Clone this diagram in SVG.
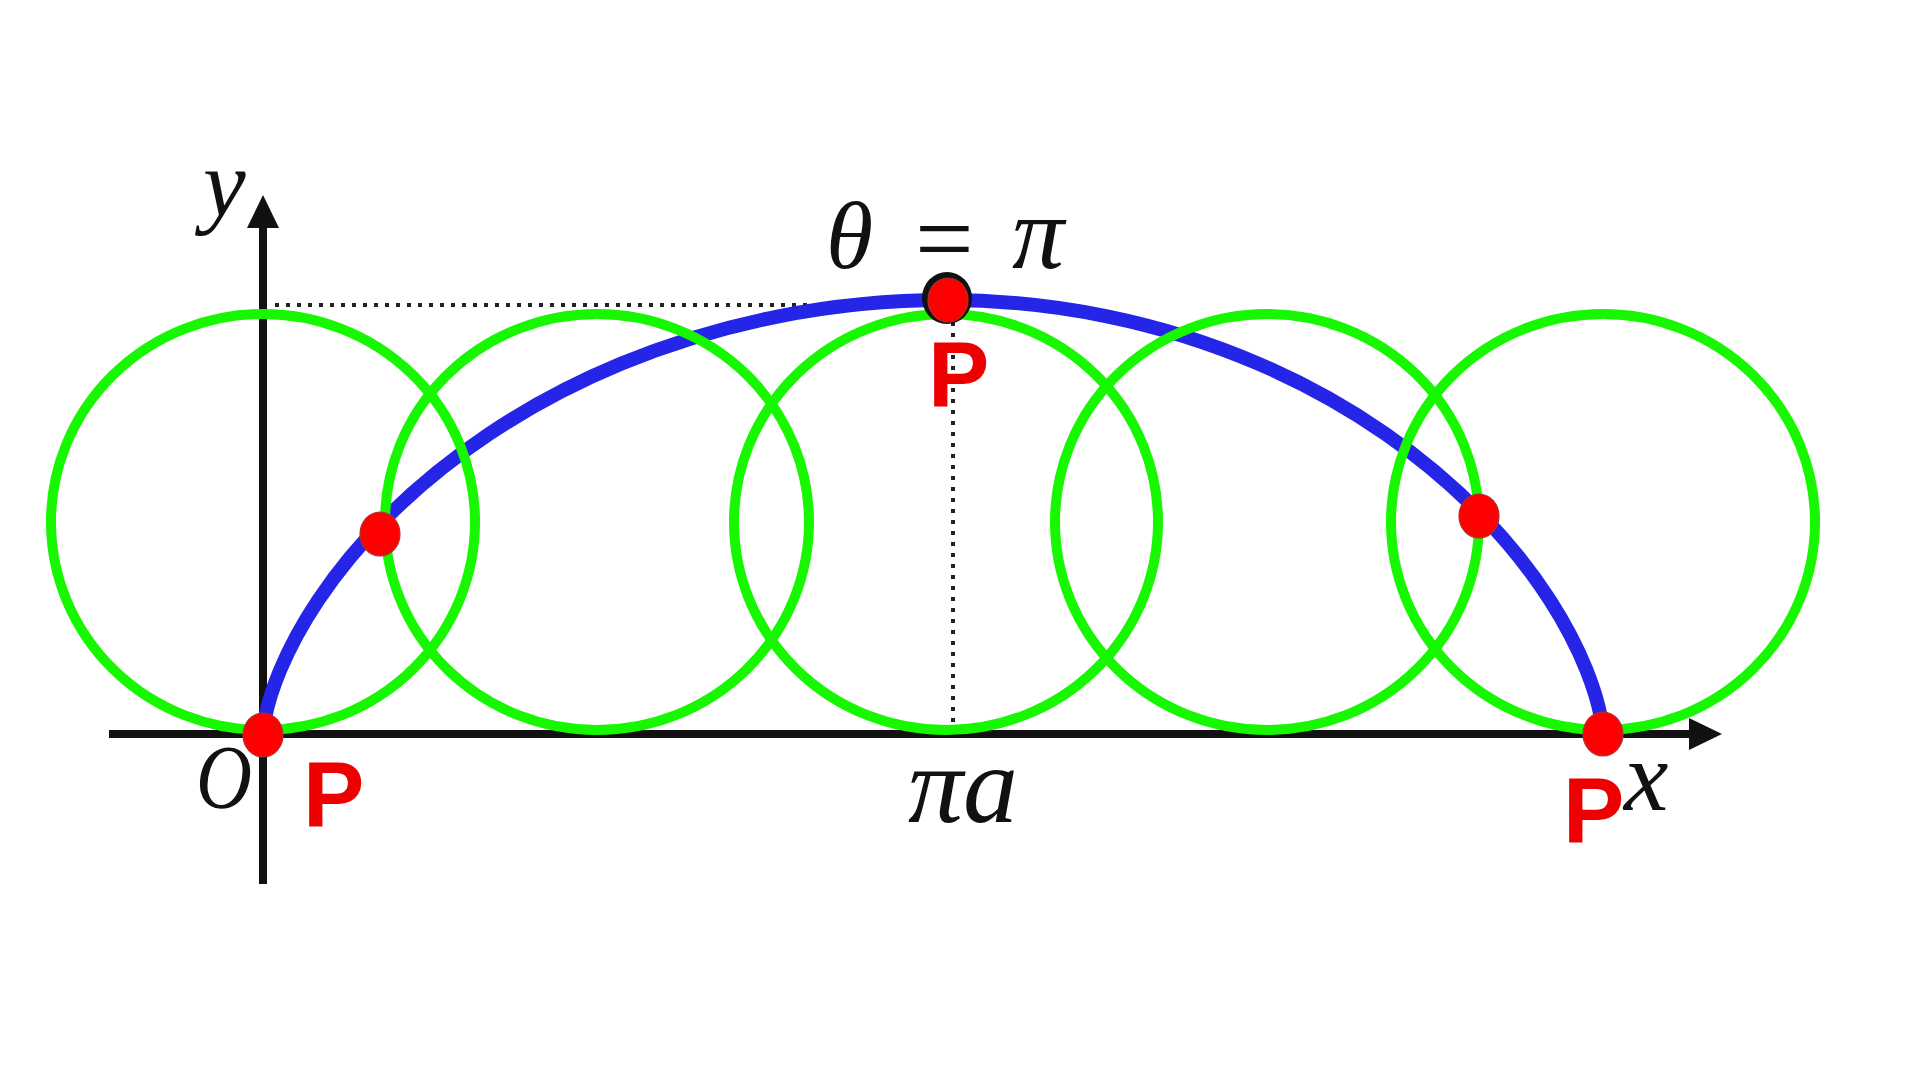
<svg xmlns="http://www.w3.org/2000/svg" width="1920" height="1080" viewBox="0 0 1920 1080">
  <style>
    .axis { stroke: #111; stroke-width: 8; fill: none; }
    .dots { stroke: #222; stroke-width: 4; stroke-dasharray: 4 7; fill: none; }
    .circ { stroke: #17f700; stroke-width: 10; fill: none; }
    .curve { stroke: #2525e8; stroke-width: 14; fill: none; stroke-linecap: round; stroke-linejoin: round; }
    .pt { fill: #ff0000; stroke: #b03030; stroke-width: 1.2; }
    .math { font-family: "Liberation Serif", "Times New Roman", serif; font-style: italic; fill: #111; }
    .lbl { font-family: "Liberation Sans", Arial, sans-serif; font-weight: bold; font-size: 92px; fill: #ee0000; }
  </style>
  <rect width="1920" height="1080" fill="#ffffff"/>

  <g id="guides">
    <line class="dots" x1="275" y1="305" x2="820" y2="305"/>
    <line class="dots" x1="953" y1="322" x2="953" y2="730"/>
  </g>

  <g id="axes">
    <line class="axis" x1="263" y1="884" x2="263" y2="222"/>
    <polygon points="263,195 247,228 279,228" fill="#111"/>
    <line class="axis" x1="109" y1="734" x2="1695" y2="734"/>
    <polygon points="1722,734 1689,718 1689,750" fill="#111"/>
  </g>

  <g id="cycloid">
    <path class="curve" d="M263,734 C263,734 263.01,728.35 265.18,717.48 C267.35,706.61 271.69,690.53 280.02,670.44 C288.36,650.36 300.7,626.28 318.27,600.04 C335.84,573.8 358.63,545.41 387.09,517 C415.55,488.6 449.66,460.2 489.01,433.96 C528.36,407.72 572.93,383.65 621.51,363.56 C670.09,343.48 722.67,327.39 777.42,316.52 C832.17,305.65 889.07,300 946,300 C1000.74,300 1055.56,305.65 1108.22,316.52 C1160.88,327.39 1211.45,343.48 1258.17,363.56 C1304.9,383.65 1347.78,407.72 1385.62,433.96 C1423.47,460.2 1456.28,488.6 1483.65,517 C1511.02,545.41 1532.94,573.8 1549.84,600.04 C1566.74,626.28 1578.61,650.36 1586.63,670.44 C1594.65,690.53 1598.82,706.61 1600.9,717.48 C1602.98,728.35 1603,734 1603,734"/>
  </g>

  <g id="circles">
    <ellipse id="circle1" class="circ" cx="263" cy="522" rx="212" ry="208"/>
    <ellipse id="circle2" class="circ" cx="597" cy="522" rx="212" ry="208"/>
    <ellipse id="circle3" class="circ" cx="946" cy="522" rx="212" ry="208"/>
    <ellipse id="circle4" class="circ" cx="1267" cy="522" rx="212" ry="208"/>
    <ellipse id="circle5" class="circ" cx="1603" cy="522" rx="212" ry="208"/>
  </g>

  <g id="points">
    <ellipse class="pt" cx="263" cy="735" rx="20" ry="22"/>
    <ellipse class="pt" cx="380" cy="534" rx="20" ry="22"/>
    <ellipse cx="947" cy="298" rx="25" ry="26" fill="#111"/>
    <ellipse class="pt" cx="948" cy="300" rx="20" ry="22"/>
    <ellipse class="pt" cx="1479" cy="516" rx="20" ry="22"/>
    <ellipse class="pt" cx="1603" cy="734" rx="20" ry="22"/>
  </g>

  <g id="labels">
    <text class="math" x="203" y="216" font-size="96">y</text>
    <text class="math" x="196" y="808" font-size="90" textLength="56" lengthAdjust="spacingAndGlyphs">O</text>
    <text class="math" x="1624" y="810" font-size="100">x</text>
    <text class="math" x="908" y="822" font-size="110">πa</text>
    <text class="math" x="826" y="268" font-size="96">θ</text>
    <text x="915" y="274" font-size="104" font-family="Liberation Serif, serif" fill="#111">=</text>
    <text class="math" x="1012" y="268" font-size="104">π</text>
    <text class="lbl" x="303" y="827">P</text>
    <text class="lbl" x="928" y="407">P</text>
    <text class="lbl" x="1563" y="843">P</text>
  </g>
</svg>
